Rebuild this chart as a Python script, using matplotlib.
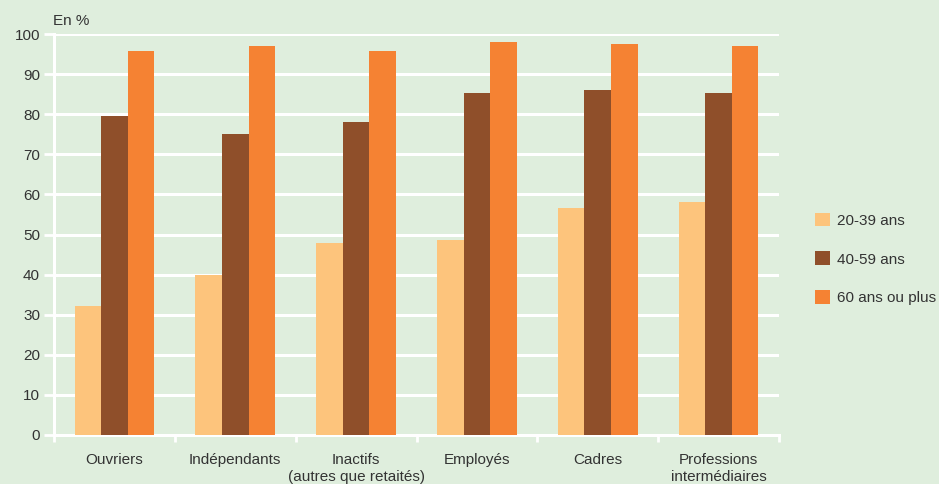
import numpy as np
import matplotlib
matplotlib.use("Agg")
import matplotlib.pyplot as plt
from matplotlib.patches import Patch

# ========================================
#  Données (en %)
# ========================================
categories = [
    "Ouvriers",
    "Indépendants",
    "Inactifs\n(autres que retaités)",
    "Employés",
    "Cadres",
    "Professions\nintermédiaires",
]
age_20_39 = [32.2, 39.9, 47.9, 48.6, 56.6, 58.1]
age_40_59 = [79.6, 75.1, 78.0, 85.3, 86.1, 85.3]
age_60_plus = [95.8, 97.1, 95.8, 97.9, 97.5, 97.1]

series_labels = ["20-39 ans", "40-59 ans", "60 ans ou plus"]
colors = ["#FDC47C", "#8F4F2A", "#F58233"]
BG = "#DFEEDD"
TXT = "#333333"

plt.rcParams["font.family"] = ["Liberation Sans", "DejaVu Sans"]
plt.rcParams["font.size"] = 11

fig = plt.figure(figsize=(9.39, 4.84), dpi=100, facecolor=BG)
ax = fig.add_axes([54 / 939, 1 - 435 / 484, (779 - 54) / 939, (435 - 34) / 484])
ax.set_facecolor(BG)

x = np.arange(len(categories))
w = 0.22
for i, vals in enumerate([age_20_39, age_40_59, age_60_plus]):
    ax.bar(x + (i - 1) * w, vals, width=w, color=colors[i], zorder=3)

ax.set_xlim(-0.5, len(categories) - 0.5)
ax.set_ylim(0, 100)
ax.set_yticks(range(0, 101, 10))
ax.grid(axis="y", color="white", linewidth=2.2, zorder=1)

ax.set_xticks(x)
ax.set_xticklabels(categories, color=TXT, linespacing=1.3)
ax.set_xticks(np.arange(len(categories) + 1) - 0.5, minor=True)
ax.tick_params(axis="x", which="major", length=0, pad=13)
ax.tick_params(axis="x", which="minor", length=5, width=2, color="white")
ax.tick_params(axis="y", length=7, width=2, color="white", labelcolor=TXT, pad=3)

for s in ["top", "right"]:
    ax.spines[s].set_visible(False)
for s in ["left", "bottom"]:
    ax.spines[s].set_color("white")
    ax.spines[s].set_linewidth(2.2)

fig.text(53 / 939, 1 - 21 / 484, "En %", color=TXT, va="center", ha="left", fontsize=11)

handles = [Patch(facecolor=c, edgecolor="none") for c in colors]
fig.legend(handles, series_labels, loc="upper left",
           bbox_to_anchor=(801 / 939, 1 - 199 / 484), frameon=False,
           handlelength=1.0, handleheight=1.0, handletextpad=0.45,
           labelspacing=1.55, labelcolor=TXT, fontsize=11)

fig.savefig("out.png", dpi=100, facecolor=BG)
